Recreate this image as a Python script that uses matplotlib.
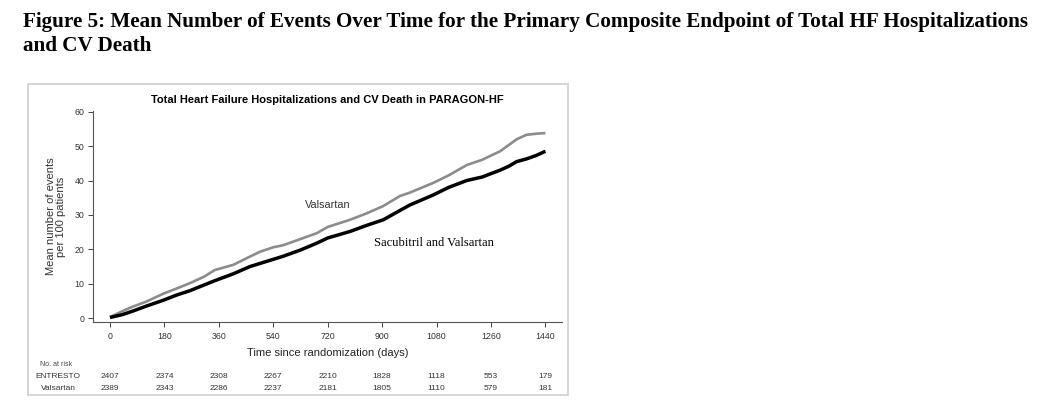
import matplotlib
matplotlib.use("Agg")
import matplotlib.pyplot as plt
from matplotlib.patches import Rectangle
from matplotlib.transforms import blended_transform_factory

plt.rcParams['font.family'] = ['Liberation Sans', 'DejaVu Sans']

# mean number of events per 100 patients
valsartan_days = [0, 40, 77, 120, 176, 220, 265, 310, 347, 408, 463, 496, 540, 573,
                  630, 684, 720, 794, 850, 904, 959, 992, 1069, 1120, 1180, 1230,
                  1290, 1345, 1378, 1410, 1440]
valsartan_events = [0.3, 2.0, 3.4, 4.8, 7.1, 8.6, 10.2, 12.0, 14.0, 15.5, 17.9, 19.3,
                    20.6, 21.2, 23.0, 24.7, 26.5, 28.6, 30.5, 32.6, 35.5, 36.5, 39.3,
                    41.5, 44.5, 46.0, 48.5, 52.0, 53.3, 53.6, 53.8]

sacval_days = [0, 40, 77, 120, 176, 220, 265, 310, 347, 408, 463, 496, 540, 573, 630,
               684, 720, 794, 850, 904, 959, 992, 1069, 1120, 1180, 1230, 1290, 1320,
               1345, 1378, 1410, 1440]
sacval_events = [0.2, 1.0, 2.1, 3.5, 5.2, 6.7, 8.0, 9.6, 10.9, 12.9, 15.0, 15.9, 17.1,
                 18.0, 19.8, 21.8, 23.3, 25.2, 27.0, 28.6, 31.3, 32.9, 35.8, 38.0, 40.0,
                 41.0, 43.0, 44.2, 45.5, 46.3, 47.3, 48.5]

x_ticks = [0, 180, 360, 540, 720, 900, 1080, 1260, 1440]
y_ticks = [0, 10, 20, 30, 40, 50, 60]

# numbers at risk under each x tick
risk_entresto = [2407, 2374, 2308, 2267, 2210, 1828, 1118, 553, 179]
risk_valsartan = [2389, 2343, 2286, 2237, 2181, 1805, 1110, 579, 181]

fig = plt.figure(figsize=(10.37, 4.05), dpi=100)

# page heading
fig.text(23 / 1037, 1 - 12 / 405,
         'Figure 5: Mean Number of Events Over Time for the Primary Composite Endpoint of Total HF Hospitalizations\nand CV Death',
         family='Liberation Serif', weight='bold', fontsize=15.2, ha='left', va='top',
         linespacing=1.25)

# grey frame around the embedded chart
fig.patches.append(Rectangle((28 / 1037, 1 - 395 / 405), 540 / 1037, 311 / 405,
                             transform=fig.transFigure, fill=False,
                             edgecolor='#cfcfcf', linewidth=1.2))

ax = fig.add_axes([0.0900, 0.2042, 0.4517, 0.5217])
ax.plot(valsartan_days, valsartan_events, color='#8c8c8c', lw=1.9, solid_capstyle='butt')
ax.plot(sacval_days, sacval_events, color='black', lw=2.5, solid_capstyle='butt')

ax.set_xlim(-55, 1494)
ax.set_ylim(-1.2, 60.2)
ax.set_xticks(x_ticks)
ax.set_yticks(y_ticks)
ax.tick_params(axis='both', direction='out', length=3.5, width=0.7, colors='#444444',
               labelsize=6.3, labelcolor='#333333')
ax.tick_params(axis='y', pad=3)
ax.tick_params(axis='x', pad=3.5)
for side in ['top', 'right']:
    ax.spines[side].set_visible(False)
for side in ['left', 'bottom']:
    ax.spines[side].set_color('#555555')
    ax.spines[side].set_linewidth(0.8)

ax.set_title('Total Heart Failure Hospitalizations and CV Death in PARAGON-HF',
             fontsize=8, weight='bold', pad=6)
ax.set_ylabel('Mean number of events\nper 100 patients', fontsize=8, color='#333333',
              labelpad=6, linespacing=1.05)
ax.set_xlabel('Time since randomization (days)', fontsize=8, color='#222222', labelpad=5)

ax.text(721, 32.9, 'Valsartan', fontsize=7.8, color='#333333', ha='center', va='center')
ax.text(1072, 21.9, 'Sacubitril and Valsartan', family='Liberation Serif', fontsize=9,
        color='black', ha='center', va='center')

# number at risk table
tr = blended_transform_factory(ax.transData, fig.transFigure)
fig.text(40 / 1037, 1 - 364 / 405, 'No. at risk', fontsize=5, color='#444444',
         ha='left', va='center')
fig.text(58 / 1037, 1 - 376 / 405, 'ENTRESTO', fontsize=6, color='#333333',
         ha='center', va='center')
fig.text(58 / 1037, 1 - 388 / 405, 'Valsartan', fontsize=6, color='#333333',
         ha='center', va='center')
for xt, n1, n2 in zip(x_ticks, risk_entresto, risk_valsartan):
    ax.text(xt, 1 - 376 / 405, str(n1), transform=tr, fontsize=6, color='#333333',
            ha='center', va='center')
    ax.text(xt, 1 - 388 / 405, str(n2), transform=tr, fontsize=6, color='#333333',
            ha='center', va='center')

fig.savefig('out.png', dpi=100, facecolor='white')
